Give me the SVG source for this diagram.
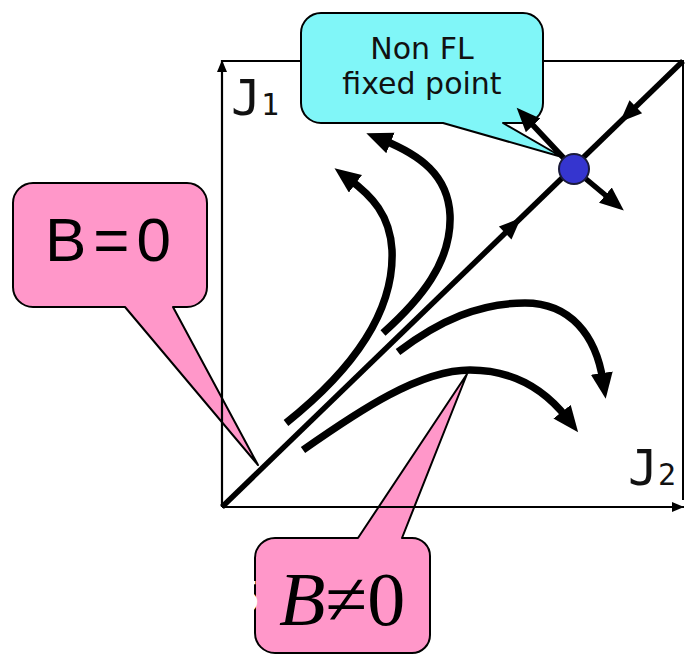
<svg xmlns="http://www.w3.org/2000/svg" width="685" height="657" viewBox="0 0 685 657">
  <defs>
    <marker id="axisHead" markerUnits="userSpaceOnUse" markerWidth="14" markerHeight="12" refX="12" refY="5" orient="auto">
      <path d="M0,0 L12,5 L0,10 z" fill="#000"/>
    </marker>
    <marker id="flowHead" markerUnits="userSpaceOnUse" markerWidth="28" markerHeight="24" refX="8" refY="11" orient="auto">
      <path d="M0,0 L26,11 L0,22 z" fill="#000"/>
    </marker>
    <marker id="perpHead" markerUnits="userSpaceOnUse" markerWidth="26" markerHeight="22" refX="6" refY="10" orient="auto">
      <path d="M0,0 L24,10 L0,20 z" fill="#000"/>
    </marker>
  </defs>
  <style>
    .frame { fill: none; stroke: #000; stroke-width: 2; }
    .axis { fill: none; stroke: #000; stroke-width: 2.2; marker-end: url(#axisHead); }
    .flow { fill: none; stroke: #000; stroke-width: 7.5; marker-end: url(#flowHead); }
    .diag { fill: none; stroke: #000; stroke-width: 5.5; }
    .perp { fill: none; stroke: #000; stroke-width: 5.5; marker-end: url(#perpHead); }
    .pink { fill: #ff97c9; stroke: #000; stroke-width: 2; stroke-linejoin: round; }
    .cyan { fill: #80f6f8; stroke: #000; stroke-width: 2; stroke-linejoin: round; }
    .lbl { font-family: "DejaVu Sans", Verdana, sans-serif; font-size: 30px; fill: #111; text-anchor: middle; }
    .jlab { font-family: "DejaVu Sans Mono", monospace; fill: #111; }
  </style>

  <g id="frame">
    <path class="frame" d="M222,61 H683 V500"/>
  </g>

  <g id="callout-nonfl">
    <path class="cyan" d="M321,13 H523 A20,20 0 0 1 543,33 V103 A20,20 0 0 1 523,123 H503 L562,157 L443,123 H321 A20,20 0 0 1 301,103 V33 A20,20 0 0 1 321,13 Z"/>
    <text class="lbl" x="422" y="59">Non FL</text>
    <text class="lbl" x="422" y="94">fixed point</text>
  </g>

  <g id="callout-b0">
    <path class="pink" d="M33,183 H187 A20,20 0 0 1 207,203 V287 A20,20 0 0 1 187,307 H173 L258,465 L125,307 H33 A20,20 0 0 1 13,287 V203 A20,20 0 0 1 33,183 Z"/>
    <text x="45" y="261" font-family="Liberation Sans, Arial, sans-serif" font-size="62" letter-spacing="7" fill="#000">B=0</text>
  </g>

  <g id="callout-bne0">
    <path class="pink" d="M275,538 H358 L467,374 L402,538 H412 A18,18 0 0 1 430,556 V635 A18,18 0 0 1 412,653 H275 A20,20 0 0 1 255,633 V558 A20,20 0 0 1 275,538 Z"/>
    <text x="279" y="625" font-family="Liberation Serif, 'Times New Roman', serif" font-size="76" fill="#000"><tspan font-style="italic">B</tspan>≠0</text>
    <text x="259" y="612" font-family="Liberation Sans, Arial, sans-serif" font-size="44" fill="#fff" text-anchor="end">5</text>
  </g>

  <g id="connectors">
    <path id="flow-a" class="flow" d="M286,423 C340,380 395,320 392,250 C390,215 372,196 349,179"/>
    <path id="flow-b" class="flow" d="M383,333 C420,300 452,262 450,215 C448,175 420,155 383,140"/>
    <path id="flow-c" class="flow" d="M398,352 C440,320 480,303 525,303 C570,303 596,335 603,381"/>
    <path id="flow-d" class="flow" d="M303,450 C360,410 420,370 470,370 C515,370 545,390 567,418"/>
    <path id="diagonal" class="diag" d="M222,507 L683,61"/>
    <polygon points="521,217.8 511.5,239.6 498.9,226.6" fill="#000"/>
    <polygon points="620,122 642.1,113.2 629.5,100.2" fill="#000"/>
    <path id="perp-up" class="perp" d="M574,169 L529,121"/>
    <path id="perp-down" class="perp" d="M574,169 L610,199"/>
  </g>

  <g id="fixed-point">
    <circle cx="574" cy="169" r="15" fill="#3535cf" stroke="#1a1a3a" stroke-width="2"/>
  </g>

  <g id="axes">
    <path class="axis" d="M222,507 V60"/>
    <path class="axis" d="M222,507 H684"/>
    <text class="jlab" x="231" y="115" font-size="50">J<tspan font-size="30">1</tspan></text>
    <text class="jlab" x="628" y="485" font-size="50">J<tspan font-size="30">2</tspan></text>
  </g>
</svg>
